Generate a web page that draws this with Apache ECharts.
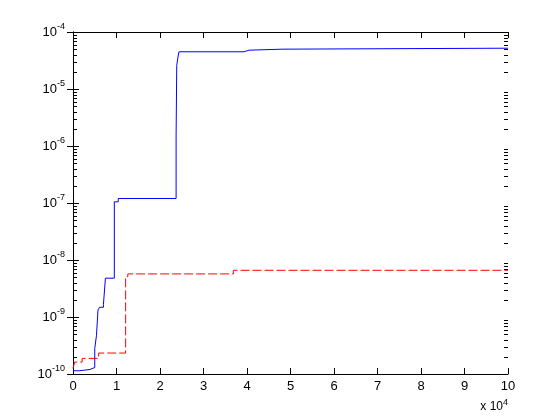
<!DOCTYPE html>
<html>
<head>
<meta charset="utf-8">
<script src="https://cdn.jsdelivr.net/npm/echarts@6/dist/echarts.min.js"></script>
<style>
  html, body { margin: 0; padding: 0; background: #fff; }
  #chart { width: 560px; height: 420px; }
</style>
</head>
<body>
<div id="chart"></div>
<script>
// x in units of 10^4, step points: [x where value changes, new value]
var blueSteps = [
  [0, 1.14e-10], [0.145, 1.2e-10], [0.39, 1.3e-10], [0.5, 2.8e-10],
  [0.54, 4.8e-10], [0.575, 1.33e-9], [0.61, 1.48e-9], [0.70, 1.67e-9],
  [0.745, 4.8e-9], [0.95, 1.05e-7], [1.04, 1.2e-7], [2.37, 1.5e-6],
  [2.385, 2.6e-5], [2.41, 3.5e-5], [2.435, 4.5e-5], [3.93, 4.8e-5],
  [4.05, 5.0e-5], [4.83, 5.2e-5], [10, 5.2e-5]
];
var redSteps = [
  [0, 1.26e-10], [0.04, 1.62e-10], [0.21, 1.88e-10], [0.59, 2.33e-10],
  [1.21, 5.1e-9], [1.26, 5.7e-9], [3.685, 6.6e-9], [10, 6.6e-9]
];
var yDecades = [-10, -9, -8, -7, -6, -5, -4];

var font = 'Liberation Sans, Arial, Helvetica, sans-serif';
var chart = echarts.init(document.getElementById('chart'));

var option = {
  animation: false,
  grid: { left: 73, right: 52, top: 32, bottom: 46 },
  xAxis: [
    {
      type: 'value', min: 0, max: 10, interval: 1,
      axisLine: { lineStyle: { color: '#000', width: 1 } },
      axisTick: { inside: true, length: 6, lineStyle: { color: '#000' } },
      axisLabel: { color: '#000', fontFamily: font, fontSize: 13, margin: 6 },
      splitLine: { show: false }
    },
    {
      type: 'value', min: 0, max: 10, interval: 1, position: 'top',
      axisLine: { lineStyle: { color: '#000', width: 1 } },
      axisTick: { inside: true, length: 6, lineStyle: { color: '#000' } },
      axisLabel: { show: false },
      splitLine: { show: false }
    }
  ],
  yAxis: [
    {
      type: 'log', logBase: 10, min: 1e-10, max: 1e-4,
      axisLine: { lineStyle: { color: '#000', width: 1 } },
      axisTick: { inside: true, length: 6, lineStyle: { color: '#000' } },
      axisLabel: {
        color: '#000', fontFamily: font, fontSize: 13, margin: 8,
        formatter: function (v) {
          var e = Math.round(Math.log10(v));
          return '{b|10}{s|' + e + '}';
        },
        rich: {
          b: { fontFamily: font, fontSize: 13, color: '#000' },
          s: { fontFamily: font, fontSize: 9, color: '#000', padding: [0, 0, 10, 0] }
        }
      },
      splitLine: { show: false }
    },
    {
      type: 'log', logBase: 10, min: 1e-10, max: 1e-4, position: 'right',
      axisLine: { lineStyle: { color: '#000', width: 1 } },
      axisTick: { inside: true, length: 6, lineStyle: { color: '#000' } },
      axisLabel: { show: false },
      splitLine: { show: false }
    }
  ],
  series: [
    {
      type: 'line', step: 'end', data: blueSteps, symbol: 'none',
      lineStyle: { color: '#0000ff', width: 1 }, z: 3
    },
    {
      type: 'line', step: 'end', data: redSteps, symbol: 'none',
      lineStyle: { color: '#ff0000', width: 1, type: [9, 3] }, z: 3
    }
  ]
};
chart.setOption(option);

// minor log ticks 2..9 per decade on both y edges, placed through the axis scales
var ticks = [];
yDecades.slice(0, -1).forEach(function (e) {
  for (var m = 2; m <= 9; m++) {
    var v = m * Math.pow(10, e);
    var l = chart.convertToPixel({ gridIndex: 0 }, [0, v]);
    var r = chart.convertToPixel({ gridIndex: 0 }, [10, v]);
    var y = Math.round(l[1]) + 0.5;
    ticks.push({ type: 'line', z: 50, shape: { x1: l[0], y1: y, x2: l[0] + 4, y2: y }, style: { stroke: '#000', lineWidth: 1 } });
    ticks.push({ type: 'line', z: 50, shape: { x1: r[0] - 4, y1: y, x2: r[0], y2: y }, style: { stroke: '#000', lineWidth: 1 } });
  }
});
ticks.push({
  type: 'text', right: 52, top: 398,
  style: {
    text: 'x 10{s|4}', fill: '#000', font: '12px ' + font,
    rich: { s: { fontSize: 9, fontFamily: font, fill: '#000', padding: [0, 0, 9, 0] } }
  }
});
chart.setOption({ graphic: ticks });
</script>
</body>
</html>
